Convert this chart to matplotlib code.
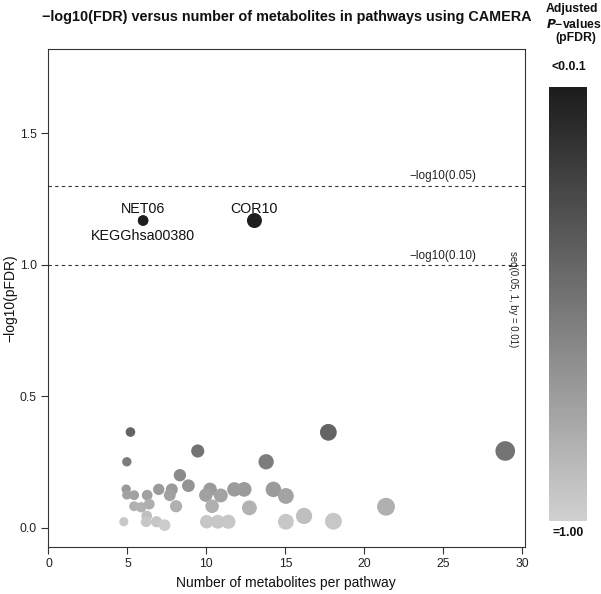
import numpy as np
import matplotlib
matplotlib.use("Agg")
import matplotlib.pyplot as plt
from matplotlib.colors import LinearSegmentedColormap, Normalize
from matplotlib.cm import ScalarMappable

plt.rcParams['font.family'] = ['Liberation Sans', 'DejaVu Sans']

# number of metabolites per pathway (as plotted, jittered)
n_metab = [5.19, 4.96, 4.92, 4.96, 5.42, 6.25, 6.98, 5.42, 5.87, 6.38,
           6.22, 4.77, 6.18, 6.84, 7.35, 9.45, 13.78, 8.32, 8.86, 7.81,
           7.68, 10.23, 9.96, 10.91, 11.77, 12.39, 14.24, 15.03, 8.08, 10.36,
           12.72, 10.02, 10.72, 11.39, 15.03, 16.18, 17.72, 18.04, 21.37, 28.92,
           5.99, 5.99, 13.04]
# -log10(pFDR)
neglog_fdr = [0.364, 0.251, 0.147, 0.125, 0.124, 0.124, 0.146, 0.082, 0.078, 0.090,
              0.045, 0.023, 0.023, 0.023, 0.010, 0.292, 0.251, 0.200, 0.160, 0.146,
              0.124, 0.146, 0.124, 0.123, 0.146, 0.146, 0.146, 0.121, 0.082, 0.082,
              0.076, 0.023, 0.023, 0.023, 0.023, 0.045, 0.363, 0.025, 0.080, 0.292,
              1.168, 1.168, 1.168]
labels = [''] * 40 + ['NET06', 'KEGGhsa00380', 'COR10']
label_pos = [None] * 40 + ['above', 'below', 'above']

thresholds = [0.05, 0.10]
threshold_text = ['\u2212log10(0.05)', '\u2212log10(0.10)']

x = np.array(n_metab)
y = np.array(neglog_fdr)
pfdr = 10 ** (-y)

cmap = LinearSegmentedColormap.from_list('grays', ['#1c1c1c', '#d0d0d0'], N=96)
norm = Normalize(vmin=0.05, vmax=1.0)
sizes = (4.2 * np.log(x)) ** 2

fig = plt.figure(figsize=(6.01, 5.94), dpi=100)
ax = fig.add_axes([48 / 601, 1 - 547 / 594, (525 - 48) / 601, (547 - 49) / 594])

ax.scatter(x, y, s=sizes, c=cmap(norm(np.clip(pfdr, 0.05, 1))),
           edgecolors='none', zorder=3)

for xi, yi, lab, pos in zip(x, y, labels, label_pos):
    if not lab:
        continue
    if pos == 'above':
        ax.annotate(lab, (xi, yi), xytext=(0, 3.5), textcoords='offset points',
                    ha='center', va='bottom', fontsize=10.3, color='#111111')
    else:
        ax.annotate(lab, (xi, yi), xytext=(0, -6), textcoords='offset points',
                    ha='center', va='top', fontsize=10.3, color='#111111')

for thr, txt in zip(thresholds, threshold_text):
    yv = -np.log10(thr)
    ax.axhline(yv, color='#333333', lw=0.8, ls=(0, (3, 3)), zorder=1)
    ax.text(25, yv + 0.012, txt, ha='center', va='bottom', fontsize=8.5,
            color='#222222')

ax.text(29.4, 0.87, 'seq(0.05, 1, by = 0.01)', rotation=270,
        ha='center', va='center', fontsize=6.9, color='#222222')

ax.set_xlim(-0.03, 30.17)
ax.set_ylim(-0.073, 1.82)
ax.set_xticks(np.arange(0, 31, 5))
ax.set_yticks([0.0, 0.5, 1.0, 1.5])
ax.set_yticklabels(['0.0', '0.5', '1.0', '1.5'])
ax.tick_params(direction='out', length=5, width=0.8, color='#333333',
               labelsize=8.7, labelcolor='#222222', pad=3)
for sp in ax.spines.values():
    sp.set_linewidth(0.8)
    sp.set_color('#333333')

fig.text(286 / 601, 1 - 583 / 594, 'Number of metabolites per pathway',
         ha='center', va='center', fontsize=10, color='#111111')
fig.text(10 / 601, 1 - 298 / 594, '\u2212log10(pFDR)', rotation=90,
         ha='center', va='center', fontsize=10, color='#111111')

fig.text(287 / 601, 1 - 17 / 594,
         '\u2212log10(FDR) versus number of metabolites in pathways using CAMERA',
         ha='center', va='center', fontsize=10.4, fontweight='bold',
         color='#111111')

# colour key
cax = fig.add_axes([549 / 601, 1 - 521 / 594, 38 / 601, 434 / 594])
cb = fig.colorbar(ScalarMappable(norm=norm, cmap=cmap), cax=cax)
cb.outline.set_visible(False)
cb.set_ticks([])
cax.invert_yaxis()

fig.text(572 / 601, 1 - 9 / 594, 'Adjusted', ha='center', va='center',
         fontsize=8.8, fontweight='bold', color='#111111')
fig.text(574 / 601, 1 - 24 / 594, '$\\bfit{P}$\u2212values', ha='center',
         va='center', fontsize=8.8, fontweight='bold', color='#111111')
fig.text(576 / 601, 1 - 38 / 594, '(pFDR)', ha='center', va='center',
         fontsize=8.8, fontweight='bold', color='#111111')
fig.text(569 / 601, 1 - 67 / 594, '<0.0.1', ha='center', va='center',
         fontsize=8.8, fontweight='bold', color='#111111')
fig.text(568 / 601, 1 - 533 / 594, '=1.00', ha='center', va='center',
         fontsize=8.8, fontweight='bold', color='#111111')

fig.savefig('out.png', dpi=100)
